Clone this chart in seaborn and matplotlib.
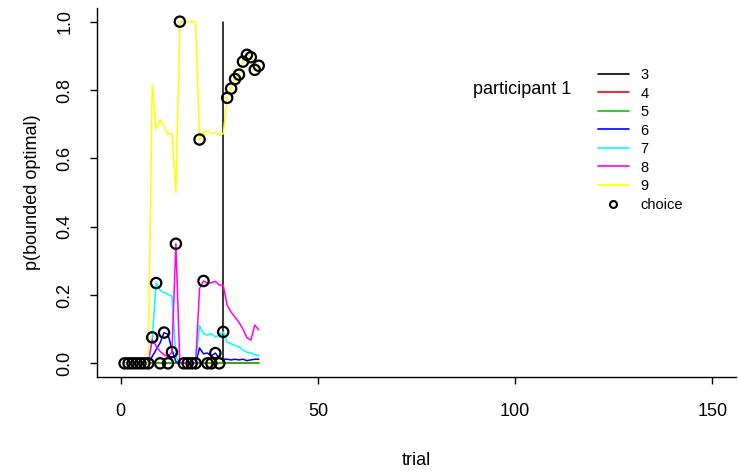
import numpy as np
import pandas as pd
import matplotlib
matplotlib.use('Agg')
import matplotlib.pyplot as plt
from matplotlib.lines import Line2D
import seaborn as sns

sns.set_theme(style="white")
plt.rcParams['font.family'] = ['Liberation Sans', 'DejaVu Sans']
plt.rcParams['text.color'] = 'black'
plt.rcParams['axes.labelcolor'] = 'black'
plt.rcParams['xtick.color'] = 'black'
plt.rcParams['ytick.color'] = 'black'

# data
trials = list(range(1, 36))
models = ['3', '4', '5', '6', '7', '8', '9']
colors = ['#000000', '#FF0000', '#00CD00', '#0000FF', '#00FFFF', '#FF00FF', '#FFFF00']

# model 3 only shows as a jump at trial 26
trials_3 = [26, 26]
p3 = [0.0, 1.0]
p4 = [0.0] * 35
p5 = [0.0] * 35
p6 = [0, 0, 0, 0, 0, 0, 0, 0.02, 0.04, 0.06, 0.09, 0.085, 0.04, 0.005, 0,
      0, 0, 0, 0, 0.045, 0.028, 0.03, 0.022, 0.03, 0.015, 0.012, 0.012, 0.01,
      0.012, 0.01, 0.012, 0.008, 0.01, 0.012, 0.012]
p7 = [0, 0, 0, 0, 0, 0, 0, 0.07, 0.235, 0.214, 0.207, 0.202, 0.197, 0.02, 0,
      0, 0, 0, 0, 0.111, 0.087, 0.082, 0.087, 0.077, 0.082, 0.092, 0.062, 0.057,
      0.053, 0.048, 0.038, 0.033, 0.03, 0.026, 0.022]
p8 = [0, 0, 0, 0, 0, 0, 0, 0.07, 0.05, 0.035, 0.025, 0.02, 0.033, 0.35, 0,
      0, 0, 0, 0, 0.219, 0.241, 0.234, 0.236, 0.24, 0.229, 0.229, 0.17, 0.15,
      0.135, 0.12, 0.1, 0.075, 0.068, 0.112, 0.098]
p9 = [0, 0, 0, 0, 0, 0, 0, 0.815, 0.685, 0.713, 0.693, 0.67, 0.673, 0.5, 1.0,
      1.0, 1.0, 1.0, 1.0, 0.655, 0.678, 0.68, 0.672, 0.675, 0.668, 0.672, 0.777,
      0.804, 0.832, 0.845, 0.883, 0.903, 0.896, 0.859, 0.871]

choice_trials = list(range(1, 36))
choice_p = [0, 0, 0, 0, 0, 0, 0, 0.076, 0.235, 0, 0.09, 0, 0.033, 0.35, 1.0,
            0, 0, 0, 0, 0.655, 0.241, 0, 0, 0.03, 0, 0.092, 0.777, 0.804, 0.832,
            0.845, 0.883, 0.903, 0.896, 0.859, 0.871]

# long table for seaborn
series = {'3': (trials_3, p3), '4': (trials, p4), '5': (trials, p5), '6': (trials, p6),
          '7': (trials, p7), '8': (trials, p8), '9': (trials, p9)}
rows = []
for m in models:
    xs, ys = series[m]
    for x, y in zip(xs, ys):
        rows.append({'trial': x, 'p': y, 'model': m})
df = pd.DataFrame(rows)
df_choice = pd.DataFrame({'trial': choice_trials, 'p': choice_p})

W, H = 738, 473
fig = plt.figure(figsize=(W / 100, H / 100), dpi=100)
ax = fig.add_axes([97 / W, (H - 377) / H, (736 - 97) / W, (377 - 8) / H])

sns.lineplot(data=df, x='trial', y='p', hue='model', hue_order=models,
             palette=colors, estimator=None, sort=False, linewidth=1.1,
             legend=False, ax=ax)
sns.scatterplot(data=df_choice, x='trial', y='p', marker='o', s=55,
                facecolor='none', edgecolor='black', linewidth=1.6,
                legend=False, ax=ax, zorder=5)

ax.set_xlim(-6, 156)
ax.set_ylim(-0.04, 1.04)
ax.set_xticks([0, 50, 100, 150])
ax.set_yticks([0.0, 0.2, 0.4, 0.6, 0.8, 1.0])
ax.set_yticklabels(['0.0', '0.2', '0.4', '0.6', '0.8', '1.0'], rotation=90, va='center')
ax.tick_params(axis='both', direction='out', length=5, width=1, color='black',
               labelsize=13, labelcolor='black', pad=12, left=True, bottom=True)
ax.tick_params(axis='x', pad=14)
ax.set_xlabel('trial', fontsize=13, labelpad=23)
ax.set_ylabel('p(bounded optimal)', fontsize=13, labelpad=11)
for s in ['top', 'right']:
    ax.spines[s].set_visible(False)
for s in ['left', 'bottom']:
    ax.spines[s].set_color('black')
    ax.spines[s].set_linewidth(1)
ax.grid(False)

ax.text(0.665, 0.778, 'participant 1', transform=ax.transAxes, fontsize=13,
        ha='center', va='center')

handles = [Line2D([], [], color=c, lw=1.2) for c in colors]
handles.append(Line2D([], [], color='black', marker='o', ls='none', ms=5,
                      mfc='none', mew=1.5))
labels = models + ['choice']
fig.legend(handles, labels, loc='upper left', bbox_to_anchor=(598 / W, 1 - 68 / H),
           frameon=False, fontsize=10.5, handlelength=2.1, handletextpad=0.8,
           labelspacing=0.31, borderpad=0, borderaxespad=0)

fig.savefig('out.png', dpi=100, facecolor='white')
